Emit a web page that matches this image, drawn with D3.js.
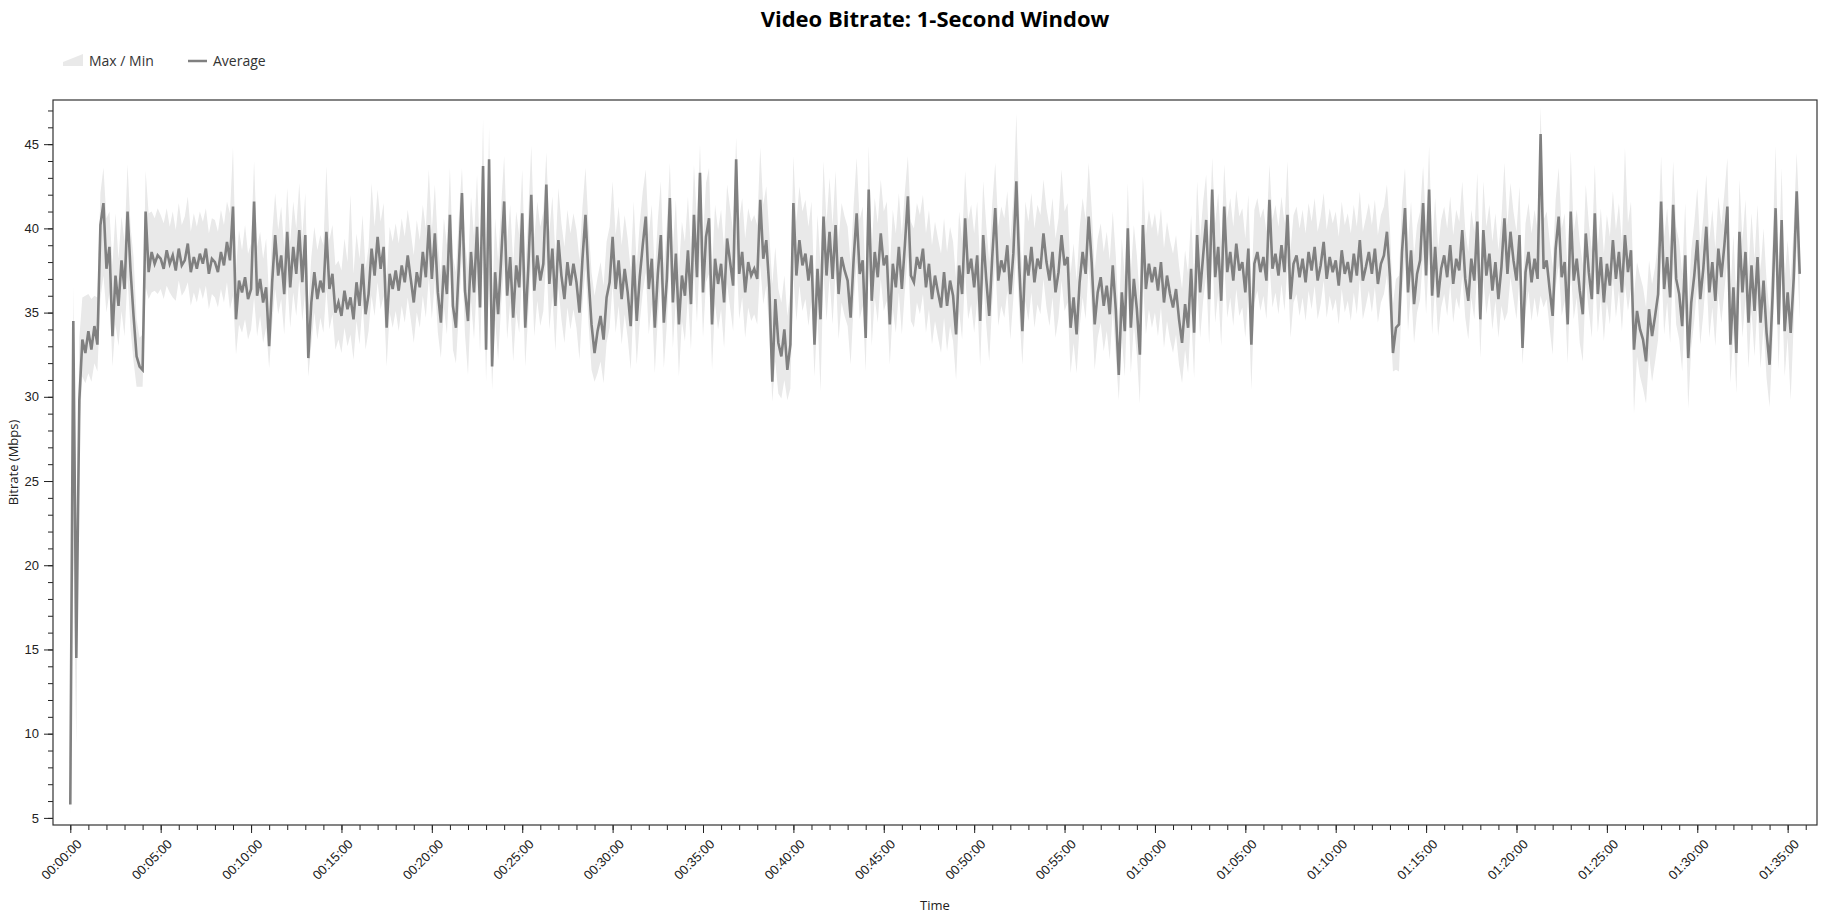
<!DOCTYPE html>
<html>
<head>
<meta charset="utf-8">
<script src="https://cdn.jsdelivr.net/npm/d3@7/dist/d3.min.js"></script>
<style>
  body { margin: 0; background: #fff; font-family: "Open Sans", sans-serif; }
</style>
</head>
<body>
<div id="chart"></div>
<script>
// one sample every 10 seconds
const stepSeconds = 10;

const avgMbps = [
  5.8, 34.5, 14.5, 29.8, 33.4, 32.6,
  33.9, 32.8, 34.2, 33.1, 40.2, 41.5,
  37.6, 38.9, 33.6, 37.2, 35.4, 38.1,
  36.4, 41.0, 37.5, 34.8, 32.4, 31.8,
  31.6, 41.0, 37.4, 38.6, 37.9, 38.4,
  38.2, 37.6, 38.7, 37.9, 38.4, 37.5,
  38.8, 37.8, 38.1, 39.1, 37.4, 38.3,
  37.6, 38.5, 37.9, 38.8, 37.3, 38.2,
  38.0, 37.4, 38.6, 37.8, 39.2, 38.1,
  41.3, 34.6, 36.9, 36.2, 37.1, 35.8,
  36.4, 41.6, 36.0, 37.0, 35.6, 36.5,
  33.0, 36.8, 39.6, 37.2, 38.4, 36.1,
  39.8, 36.5, 38.9, 37.3, 39.9, 36.8,
  39.6, 32.3, 35.6, 37.4, 35.8, 36.9,
  36.2, 39.8, 36.4, 37.3, 35.0, 35.6,
  34.8, 36.3, 35.2, 35.9, 34.6, 36.8,
  35.4, 37.9, 34.9, 36.1, 38.8, 37.2,
  39.5, 37.6, 38.9, 34.1, 37.3, 36.4,
  37.5, 36.3, 37.8, 36.8, 38.4, 37.0,
  35.6, 37.4, 36.5, 38.6, 37.1, 40.2,
  37.0, 39.7, 36.2, 34.4, 37.8, 36.1,
  40.8, 35.4, 34.1, 37.9, 42.1, 36.3,
  34.5, 38.6, 36.2, 40.1, 35.3, 43.7,
  32.8, 44.1, 31.8, 37.4, 34.9, 38.2,
  41.6, 36.0, 38.3, 34.7, 37.8, 36.5,
  40.9, 34.1, 37.6, 42.0, 36.3, 38.4,
  36.9, 37.9, 42.6, 36.7, 38.8, 35.4,
  39.3, 37.2, 35.8, 38.0, 36.6, 37.9,
  36.8, 35.0, 38.2, 40.8, 37.1, 34.3,
  32.6, 33.9, 34.8, 33.4, 35.9, 36.8,
  39.5, 36.4, 38.1, 35.8, 37.6, 36.2,
  34.2, 38.4, 34.5, 37.1, 39.0, 40.7,
  36.4, 38.2, 34.1, 37.3, 39.6, 34.4,
  37.0, 41.8, 35.6, 38.5, 34.3, 37.2,
  36.0, 38.7, 35.5, 40.8, 37.1, 43.3,
  36.2, 39.5, 40.6, 34.3, 38.2, 36.7,
  37.9, 35.6, 39.4, 38.0, 36.6, 44.1,
  37.3, 38.6, 36.2, 38.0, 37.2, 37.6,
  37.0, 41.7, 38.2, 39.3, 36.5, 30.9,
  35.8, 33.2, 32.4, 34.0, 31.6, 33.1,
  41.5, 37.2, 39.3, 37.8, 38.5, 36.9,
  38.4, 33.1, 37.6, 34.6, 40.7, 37.2,
  39.8, 37.0, 40.2, 36.1, 38.3, 37.5,
  36.9, 34.7, 38.2, 40.9, 37.3, 38.1,
  33.5, 42.3, 35.7, 38.6, 37.1, 39.7,
  37.8, 38.4, 34.3, 37.9, 36.5, 38.9,
  36.4, 39.0, 41.9, 37.2, 36.8, 38.3,
  37.6, 38.8, 36.5, 37.9, 35.8, 37.2,
  36.2, 35.3, 37.4, 35.4, 36.9, 36.0,
  33.7, 37.8, 36.1, 40.6, 37.3, 38.2,
  36.5, 38.4, 34.5, 39.6, 37.0, 34.8,
  38.3, 41.2, 36.9, 38.1, 37.4, 39.0,
  36.1, 38.5, 42.8, 37.6, 33.9, 38.4,
  37.2, 38.9, 36.8, 38.2, 37.6, 39.7,
  38.0, 36.9, 38.6, 36.2, 37.4, 39.6,
  37.8, 38.3, 34.1, 35.9, 33.7, 36.8,
  38.6, 37.3, 40.7, 38.0, 34.3, 36.2,
  37.1, 35.4, 36.6, 34.9, 37.8, 35.2,
  31.3, 36.2, 33.9, 40.0, 34.1, 37.0,
  35.2, 32.5, 40.2, 36.4, 37.9, 36.8,
  37.7, 36.3, 38.0, 35.6, 37.2, 36.1,
  35.3, 36.4, 34.6, 33.2, 35.5, 34.1,
  37.6, 33.8, 39.6, 36.2, 38.4, 40.5,
  35.8, 42.3, 37.1, 38.9, 35.7, 41.3,
  37.4, 38.6, 36.9, 39.1, 37.5, 38.0,
  36.2, 38.8, 33.1, 37.9, 38.6, 37.4,
  38.3, 36.9, 41.7, 37.6, 38.5, 37.2,
  39.0, 37.4, 40.8, 35.8, 37.9, 38.4,
  37.1, 38.2, 36.8, 38.6, 37.5, 38.9,
  36.9, 37.8, 39.2, 37.0, 38.3, 37.4,
  38.1, 36.6, 38.7, 37.3, 38.0, 36.8,
  38.5, 37.2, 39.3, 36.9, 37.7, 38.6,
  37.3, 38.8, 36.7, 37.9, 38.4, 39.8,
  37.1, 32.6, 34.1, 34.3, 38.6, 41.2,
  36.2, 38.7, 35.5, 37.3, 38.1, 41.5,
  37.2, 42.3, 36.0, 38.9, 35.9, 37.6,
  38.4, 37.1, 39.0, 36.7, 38.2, 37.5,
  39.9, 37.0, 35.7, 38.2, 36.9, 40.4,
  34.6, 39.9, 37.2, 38.5, 36.3, 38.0,
  35.8, 37.7, 40.6, 37.3, 39.8, 38.1,
  36.9, 39.6, 32.9, 37.4, 38.6, 36.8,
  38.2, 37.0, 45.6, 37.6, 38.1, 36.4,
  34.8, 38.8, 40.7, 37.1, 38.0, 34.3,
  41.0, 36.9, 38.2, 36.3, 34.9, 39.7,
  37.4, 35.8, 40.9, 36.1, 38.3, 35.6,
  37.9, 36.6, 39.3, 37.0, 38.6, 36.2,
  39.6, 37.4, 38.7, 32.8, 35.1, 34.0,
  33.4, 32.1, 35.2, 33.6, 34.8, 36.1,
  41.6, 36.4, 38.3, 35.9, 41.4, 37.0,
  36.1, 34.2, 38.4, 32.3, 35.6, 37.2,
  39.3, 35.8, 37.6, 40.1, 36.2, 38.0,
  35.7, 38.8, 37.1, 39.0, 41.3, 33.1,
  36.5, 32.6, 39.8, 36.2, 38.6, 34.4,
  37.8, 35.1, 38.3, 34.4, 36.9, 33.8,
  31.9, 36.0, 41.2, 34.3, 40.5, 33.9,
  36.2, 33.8, 37.0, 42.2, 37.3
];

const maxMbps = [
  9.8, 36.6, 20.5, 33.5, 35.9, 36.0,
  36.1, 35.8, 36.0, 35.9, 42.1, 43.6,
  40.6, 41.0, 37.8, 40.9, 38.2, 40.7,
  39.2, 43.8, 40.1, 38.3, 34.6, 33.5,
  33.7, 43.4, 40.9, 41.0, 40.6, 41.2,
  40.8, 40.3, 41.2, 40.1, 41.0, 39.9,
  41.5, 40.2, 40.7, 41.9, 39.8, 40.9,
  40.1, 41.0, 40.4, 41.2, 39.7, 40.6,
  40.5, 39.8, 41.1, 40.2, 41.6, 40.9,
  44.8, 37.6, 39.9, 38.7, 40.2, 38.5,
  39.1, 44.0, 38.9, 39.8, 38.2, 39.4,
  35.8, 39.7, 42.1, 39.9, 41.3, 38.8,
  42.4, 39.2, 41.6, 40.0, 42.7, 39.5,
  42.1, 35.4, 38.3, 40.1, 38.7, 39.6,
  39.0, 43.7, 39.3, 40.2, 37.8, 38.1,
  37.5, 39.4, 38.0, 42.0, 37.3, 39.7,
  38.2, 40.8, 37.6, 38.9, 42.7, 40.1,
  42.3, 40.4, 41.5, 37.0, 40.1, 39.2,
  40.3, 39.1, 40.6, 39.5, 41.1, 39.8,
  38.4, 40.5, 39.3, 41.4, 40.0, 43.5,
  39.9, 42.6, 39.1, 37.2, 40.6, 39.0,
  43.6, 38.3, 37.4, 40.8, 43.6, 39.2,
  37.6, 41.9, 39.5, 43.2, 38.4, 46.5,
  36.0, 46.0, 35.2, 40.6, 38.1, 41.3,
  44.3, 39.2, 41.4, 37.9, 41.0, 39.6,
  43.5, 37.5, 40.8, 44.9, 39.4, 41.6,
  40.1, 41.0, 44.5, 39.8, 41.9, 38.5,
  42.4, 40.3, 38.9, 41.1, 39.7, 40.9,
  39.9, 38.1, 41.3, 43.6, 40.2, 37.4,
  36.0, 37.1, 38.0, 36.6, 39.2, 40.1,
  42.8, 39.6, 41.3, 39.0, 40.8, 39.4,
  37.5, 41.6, 37.8, 40.3, 42.2, 43.5,
  39.6, 41.4, 37.3, 40.5, 42.8, 37.6,
  40.2, 43.9, 38.8, 41.7, 37.5, 40.4,
  39.2, 41.9, 38.7, 43.8, 40.3, 45.0,
  39.4, 42.7, 43.6, 37.5, 41.4, 39.9,
  41.1, 38.8, 42.6, 41.2, 39.8, 45.4,
  40.5, 41.8, 39.4, 41.2, 40.4, 40.8,
  40.2, 44.8, 41.4, 42.5, 39.7, 36.7,
  38.9, 36.4, 35.6, 37.2, 34.8, 36.3,
  44.3, 40.4, 42.5, 41.0, 41.7, 40.1,
  41.6, 36.3, 40.8, 37.8, 44.0, 40.4,
  43.0, 40.2, 43.4, 39.3, 41.5, 40.7,
  40.1, 37.9, 41.4, 44.2, 40.5, 41.3,
  36.7, 44.9, 38.9, 41.8, 40.3, 42.9,
  41.0, 41.6, 37.5, 41.1, 39.7, 42.1,
  39.6, 42.2, 44.3, 40.4, 40.0, 41.5,
  40.8, 42.0, 39.7, 41.1, 39.0, 40.4,
  39.4, 38.5, 40.6, 38.6, 40.1, 39.2,
  37.0, 41.0, 39.3, 43.4, 40.5, 41.4,
  39.7, 41.6, 37.7, 42.8, 40.2, 38.0,
  41.5, 43.9, 40.1, 41.3, 40.6, 42.2,
  39.3, 41.7, 46.8, 40.8, 37.1, 41.6,
  40.4, 42.1, 40.0, 41.4, 40.8, 42.9,
  41.2, 40.1, 41.8, 39.4, 40.6, 43.5,
  41.0, 41.5, 37.3, 39.1, 36.9, 40.0,
  41.8, 40.5, 43.9, 41.2, 37.5, 39.4,
  40.3, 38.6, 39.8, 38.1, 41.0, 38.4,
  34.5, 39.4, 37.1, 42.7, 37.3, 40.2,
  38.4, 35.7, 43.1, 39.6, 41.1, 40.0,
  40.9, 39.5, 41.2, 38.8, 40.4, 39.3,
  38.5, 39.6, 37.8, 36.4, 38.7, 37.3,
  40.8, 37.0, 42.8, 39.4, 41.6, 43.2,
  39.0, 44.2, 40.3, 42.1, 38.9, 43.8,
  40.6, 41.8, 40.1, 42.3, 40.7, 41.2,
  39.4, 42.0, 36.3, 41.1, 41.8, 40.6,
  41.2, 39.8, 43.8, 40.5, 41.4, 40.1,
  41.9, 40.3, 44.0, 38.7, 40.8, 41.3,
  40.0, 41.1, 39.7, 41.5, 40.4, 41.8,
  39.8, 40.7, 42.1, 39.9, 41.2, 40.3,
  41.0, 39.5, 41.6, 40.2, 40.9, 39.7,
  41.4, 40.1, 42.2, 39.8, 40.6, 41.5,
  40.2, 41.7, 39.6, 40.8, 41.3, 42.6,
  40.0, 35.5, 37.0, 37.2, 41.5, 43.6,
  39.1, 41.6, 38.4, 40.2, 41.0, 43.7,
  40.1, 44.9, 38.9, 41.8, 38.8, 40.5,
  41.3, 40.0, 41.9, 39.6, 41.1, 40.4,
  42.8, 39.9, 38.6, 41.1, 39.8, 43.3,
  37.5, 42.8, 40.1, 41.4, 39.2, 40.9,
  38.7, 40.6, 43.9, 40.2, 42.7, 41.0,
  39.8, 42.5, 36.2, 40.3, 41.5, 39.7,
  41.1, 39.9, 47.2, 40.5, 41.0, 39.3,
  37.7, 41.7, 43.6, 40.0, 40.9, 37.2,
  44.6, 39.8, 41.1, 39.2, 37.8, 42.6,
  40.3, 38.7, 43.8, 39.0, 41.2, 38.5,
  40.8, 39.5, 42.2, 39.9, 41.5, 39.1,
  44.8, 40.3, 41.6, 36.0, 38.0, 37.2,
  36.5, 35.3, 38.1, 36.7, 37.7, 39.2,
  44.3, 39.5, 41.2, 38.8, 44.0, 40.1,
  39.2, 37.3, 41.5, 35.4, 38.7, 40.3,
  42.4, 38.9, 40.7, 43.2, 39.3, 41.1,
  38.8, 41.9, 40.2, 42.1, 44.2, 36.2,
  39.6, 35.7, 42.9, 39.3, 41.7, 37.5,
  40.9, 38.2, 41.4, 37.5, 40.0, 36.9,
  35.0, 39.1, 44.9, 37.4, 43.6, 37.0,
  39.3, 36.9, 40.1, 44.5, 40.4
];

const minMbps = [
  5.0, 20.5, 9.3, 28.0, 31.2, 30.8,
  31.4, 30.9, 32.0, 31.5, 35.8, 37.2,
  35.0, 36.2, 31.8, 34.3, 33.0, 35.1,
  33.6, 37.1, 34.0, 32.1, 30.6, 30.6,
  30.6, 36.5, 35.8, 36.2, 36.3, 36.1,
  36.4, 35.8, 36.6, 36.2, 35.9, 35.7,
  36.9, 36.0, 36.3, 36.8, 35.4, 36.2,
  35.6, 36.5, 35.8, 36.6, 35.2, 36.1,
  35.9, 35.3, 36.4, 35.6, 36.8, 35.2,
  36.0, 32.5, 34.3, 33.8, 34.6, 33.4,
  34.0, 35.9, 33.6, 34.8, 33.2, 34.1,
  31.7, 34.3, 36.4, 34.9, 35.8, 33.7,
  36.9, 34.1, 36.2, 34.8, 37.0, 34.5,
  36.3, 31.2, 33.1, 35.0, 33.4, 34.7,
  33.8, 36.4, 34.0, 34.9, 32.8, 33.4,
  32.6, 34.1, 33.0, 33.7, 32.2, 34.5,
  33.1, 35.5, 32.8, 33.9, 36.0, 34.8,
  36.8, 35.2, 36.0, 31.8, 35.0, 34.1,
  35.1, 33.9, 35.4, 34.4, 35.9, 34.6,
  33.2, 35.0, 34.1, 36.0, 34.7, 37.1,
  34.6, 36.9, 33.8, 32.3, 35.3, 33.7,
  37.5, 32.8, 32.0, 35.1, 38.4, 33.7,
  31.3, 35.7, 33.4, 37.0, 32.6, 38.8,
  30.9, 37.3, 30.4, 34.6, 32.2, 35.4,
  38.0, 33.4, 35.6, 32.1, 35.0, 33.8,
  37.6, 31.8, 34.9, 38.1, 33.6, 35.7,
  34.2, 35.1, 38.3, 34.0, 36.0, 32.7,
  36.5, 34.6, 33.2, 35.3, 34.0, 35.2,
  34.1, 32.2, 35.5, 37.6, 34.4, 31.6,
  30.9, 31.4, 32.1, 30.8, 33.2, 34.1,
  36.7, 33.8, 35.4, 33.1, 34.9, 33.5,
  31.6, 35.7, 31.9, 34.4, 36.2, 37.4,
  33.7, 35.5, 31.4, 34.6, 36.9, 31.7,
  34.3, 38.4, 32.9, 35.8, 31.2, 34.5,
  33.3, 36.0, 32.8, 37.5, 34.4, 38.6,
  33.5, 36.8, 37.3, 31.6, 35.5, 34.0,
  35.2, 32.9, 36.7, 35.3, 33.9, 38.9,
  34.6, 35.9, 33.5, 35.3, 34.5, 34.9,
  34.3, 37.8, 35.5, 36.6, 33.8, 29.7,
  32.1, 30.2, 29.9, 31.0, 29.8, 30.5,
  37.2, 34.5, 36.6, 35.1, 35.8, 34.2,
  35.7, 31.2, 34.9, 30.3, 37.4, 34.5,
  37.1, 34.3, 37.5, 33.4, 35.6, 34.8,
  34.2, 31.9, 35.5, 38.0, 34.6, 35.4,
  31.5, 38.9, 33.0, 35.9, 34.4, 37.0,
  35.1, 35.7, 31.9, 35.2, 33.8, 36.2,
  33.7, 36.3, 38.4, 34.5, 34.1, 35.6,
  34.9, 36.1, 33.8, 35.2, 33.1, 34.5,
  33.5, 32.6, 34.7, 32.7, 34.2, 33.3,
  31.0, 35.1, 33.4, 37.3, 34.6, 35.5,
  33.8, 35.7, 31.8, 36.9, 34.3, 32.1,
  35.6, 38.0, 34.2, 35.4, 34.7, 36.3,
  33.4, 35.8, 38.5, 34.9, 31.9, 35.7,
  34.5, 36.2, 34.1, 35.5, 34.9, 37.0,
  35.3, 34.2, 35.9, 33.5, 34.7, 36.9,
  35.1, 35.6, 31.4, 33.2, 31.4, 34.1,
  35.9, 34.6, 37.8, 35.3, 31.6, 33.5,
  34.4, 32.7, 33.9, 32.2, 35.1, 32.5,
  29.8, 33.5, 31.2, 36.7, 31.4, 34.3,
  32.5, 29.6, 36.9, 33.7, 35.2, 34.1,
  35.0, 33.6, 35.3, 32.9, 34.5, 33.4,
  32.6, 33.7, 31.9, 30.8, 32.8, 31.4,
  34.9, 31.1, 36.9, 33.5, 35.7, 37.2,
  33.1, 38.6, 34.4, 36.2, 33.0, 37.9,
  34.7, 35.9, 34.2, 36.4, 34.8, 35.3,
  33.5, 36.1, 30.4, 35.6, 36.3, 35.1,
  36.0, 34.6, 37.9, 35.3, 36.2, 34.9,
  36.7, 35.1, 37.8, 33.5, 35.6, 36.1,
  34.8, 35.9, 34.5, 36.3, 35.2, 36.6,
  34.6, 35.5, 36.9, 34.7, 36.0, 35.1,
  35.8, 34.3, 36.4, 35.0, 35.7, 34.5,
  36.2, 34.9, 37.0, 34.6, 35.4, 36.3,
  35.0, 36.5, 34.4, 35.6, 36.1, 37.2,
  34.8, 31.5, 31.6, 31.5, 36.1, 38.3,
  33.9, 36.4, 33.2, 35.0, 35.8, 38.4,
  34.9, 38.6, 33.7, 36.6, 33.6, 35.3,
  36.1, 34.8, 36.7, 34.4, 35.9, 35.2,
  37.2, 34.7, 33.4, 35.9, 34.6, 37.5,
  32.3, 37.0, 34.9, 36.2, 34.0, 35.7,
  33.5, 35.4, 34.5, 35.0, 37.1, 35.8,
  34.6, 37.1, 31.9, 35.1, 36.3, 34.5,
  35.9, 34.7, 36.0, 35.3, 35.8, 34.1,
  32.5, 36.5, 37.8, 34.8, 35.7, 32.0,
  37.7, 34.6, 35.9, 33.2, 32.1, 36.8,
  35.1, 33.5, 37.6, 33.8, 36.0, 33.3,
  35.6, 34.3, 37.0, 34.7, 36.3, 33.9,
  36.7, 35.1, 36.4, 29.0, 32.4, 31.2,
  30.5, 29.6, 32.5, 30.9, 32.1, 33.4,
  38.3, 33.7, 35.6, 33.2, 37.9, 34.3,
  33.4, 31.5, 35.7, 29.3, 32.9, 34.5,
  36.6, 33.1, 34.9, 37.4, 33.5, 35.3,
  33.0, 36.1, 34.4, 36.3, 38.2, 30.8,
  33.8, 30.2, 37.1, 33.5, 35.9, 31.7,
  35.1, 32.4, 35.6, 31.7, 34.2, 31.1,
  29.4, 33.3, 37.9, 31.6, 37.2, 31.2,
  33.5, 29.8, 34.3, 38.9, 34.6
];

const yTickValues = [5, 10, 15, 20, 25, 30, 35, 40, 45];
const xTickStepSeconds = 300;   // labelled ticks every 5 minutes
const xMinorStepSeconds = 60;   // small ticks every minute

const margin = { top: 100, right: 24, bottom: 93, left: 53 };
const width = 1841 - margin.left - margin.right;
const height = 918 - margin.top - margin.bottom;

const data = avgMbps.map(function (v, i) {
  return { t: i * stepSeconds, avg: v, max: maxMbps[i], min: minMbps[i] };
});

const svg = d3.select("#chart")
  .append("svg")
    .attr("width", 1841)
    .attr("height", 918);

const g = svg.append("g")
  .attr("transform", "translate(" + margin.left + "," + margin.top + ")");

// scales, padded by 1% of the data range like the original
const tExt = d3.extent(data, d => d.t);
const tPad = (tExt[1] - tExt[0]) * 0.01;
const x = d3.scaleLinear()
  .domain([tExt[0] - tPad, tExt[1] + tPad])
  .range([0, width]);

const yLo = d3.min(minMbps), yHi = d3.max(maxMbps);
const yPad = (yHi - yLo) * 0.01;
const y = d3.scaleLinear()
  .domain([yLo - yPad, yHi + yPad])
  .range([height, 0]);

function hms(sec) {
  const h = Math.floor(sec / 3600);
  const m = Math.floor((sec % 3600) / 60);
  const s = Math.round(sec % 60);
  const p = n => String(n).padStart(2, "0");
  return p(h) + ":" + p(m) + ":" + p(s);
}

g.append("defs").append("clipPath")
  .attr("id", "clip")
  .append("rect")
    .attr("width", width)
    .attr("height", height);

const plot = g.append("g").attr("clip-path", "url(#clip)");

// max / min band
plot.append("path")
  .datum(data)
  .attr("fill", "#e9e9e9")
  .attr("stroke", "none")
  .attr("d", d3.area()
    .x(d => x(d.t))
    .y0(d => y(d.min))
    .y1(d => y(d.max)));

// average line
plot.append("path")
  .datum(data)
  .attr("fill", "none")
  .attr("stroke", "#808080")
  .attr("stroke-width", 2.6)
  .attr("stroke-linejoin", "miter")
  .attr("d", d3.line()
    .x(d => x(d.t))
    .y(d => y(d.avg)));

// minor ticks
const xMinor = d3.range(0, x.domain()[1], xMinorStepSeconds);
g.append("g")
  .attr("transform", "translate(0," + height + ")")
  .call(d3.axisBottom(x).tickValues(xMinor).tickSize(5).tickFormat(""))
  .call(a => a.select(".domain").remove());

const yMinor = d3.range(Math.ceil(y.domain()[0]), y.domain()[1], 1);
g.append("g")
  .call(d3.axisLeft(y).tickValues(yMinor).tickSize(5).tickFormat(""))
  .call(a => a.select(".domain").remove());

// X axis
const xMajor = d3.range(0, x.domain()[1], xTickStepSeconds);
const xAxis = g.append("g")
  .attr("transform", "translate(0," + height + ")")
  .call(d3.axisBottom(x).tickValues(xMajor).tickSize(8).tickFormat(hms));
xAxis.select(".domain").remove();
xAxis.selectAll("text")
  .style("font-size", "13px")
  .style("fill", "#222")
  .attr("text-anchor", "end")
  .attr("dx", "0")
  .attr("dy", "0")
  .attr("transform", "translate(4,12) rotate(-45)");

// Y axis
const yAxis = g.append("g")
  .call(d3.axisLeft(y).tickValues(yTickValues).tickSize(9).tickPadding(5));
yAxis.select(".domain").remove();
yAxis.selectAll("text")
  .style("font-size", "13px")
  .style("fill", "#222");

g.selectAll(".tick line").attr("stroke", "#222");

// frame round the plot
g.append("rect")
  .attr("width", width)
  .attr("height", height)
  .attr("fill", "none")
  .attr("stroke", "#333")
  .attr("stroke-width", 1.2);

// title and axis labels
svg.append("text")
  .attr("x", margin.left + width / 2)
  .attr("y", 27)
  .attr("text-anchor", "middle")
  .style("font-size", "22px")
  .style("font-weight", "bold")
  .style("fill", "#000")
  .text("Video Bitrate: 1-Second Window");

svg.append("text")
  .attr("transform", "translate(18," + (margin.top + height / 2) + ") rotate(-90)")
  .attr("text-anchor", "middle")
  .style("font-size", "13px")
  .style("fill", "#222")
  .text("Bitrate (Mbps)");

svg.append("text")
  .attr("x", margin.left + width / 2)
  .attr("y", 910)
  .attr("text-anchor", "middle")
  .style("font-size", "13px")
  .style("fill", "#222")
  .text("Time");

// legend
const legend = svg.append("g");
legend.append("path")
  .attr("d", "M63,66 L63,62 L83,54 L83,66 Z")
  .attr("fill", "#e9e9e9");
legend.append("text")
  .attr("x", 89).attr("y", 66)
  .style("font-size", "14px").style("fill", "#333")
  .text("Max / Min");
legend.append("line")
  .attr("x1", 188).attr("x2", 207)
  .attr("y1", 61).attr("y2", 61)
  .attr("stroke", "#808080")
  .attr("stroke-width", 2.5);
legend.append("text")
  .attr("x", 213).attr("y", 66)
  .style("font-size", "14px").style("fill", "#333")
  .text("Average");
</script>
</body>
</html>
